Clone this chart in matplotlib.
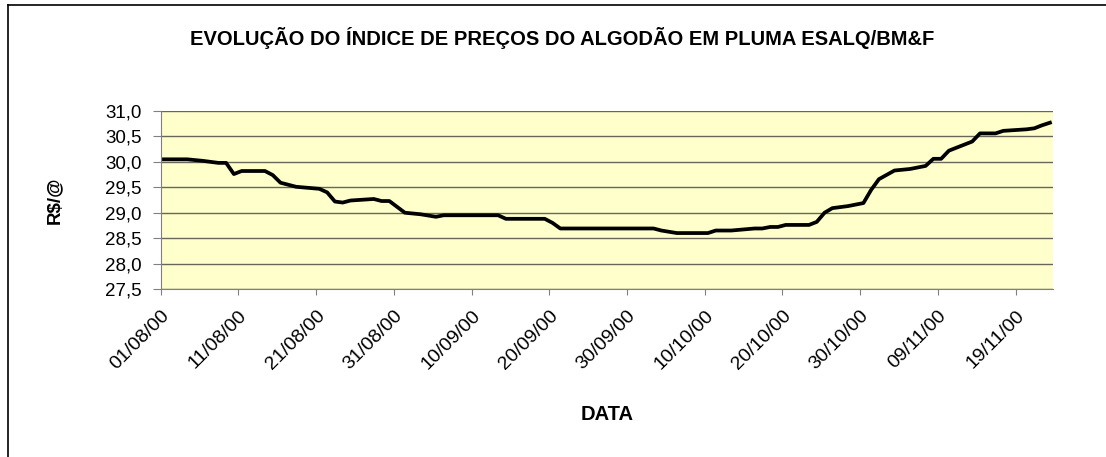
import matplotlib
matplotlib.use('Agg')
import matplotlib.pyplot as plt
import matplotlib.dates as mdates
from matplotlib.lines import Line2D
from matplotlib.ticker import FuncFormatter
import pandas as pd

######################### DATA #########################

title = 'EVOLUÇÃO DO ÍNDICE DE PREÇOS DO ALGODÃO EM PLUMA ESALQ/BM&F'
x_label = 'DATA'
y_label = 'R$/@'

dates = ['01/08', '04/08', '06/08', '08/08', '09/08', '10/08', '11/08', '14/08', '15/08',
         '16/08', '18/08', '21/08', '22/08', '23/08', '24/08', '25/08', '28/08', '29/08',
         '30/08', '01/09', '03/09', '05/09', '06/09', '13/09', '14/09', '19/09', '20/09',
         '21/09', '03/10', '04/10', '06/10', '10/10', '11/10', '13/10', '16/10', '17/10',
         '18/10', '19/10', '20/10', '23/10', '24/10', '25/10', '26/10', '28/10', '30/10',
         '31/10', '01/11', '03/11', '05/11', '07/11', '08/11', '09/11', '10/11', '13/11',
         '14/11', '16/11', '17/11', '20/11', '21/11', '22/11', '23/11']
prices = [30.05, 30.05, 30.02, 29.98, 29.98, 29.76, 29.82, 29.82, 29.74,
          29.59, 29.51, 29.47, 29.40, 29.22, 29.20, 29.24, 29.27, 29.23,
          29.23, 29.00, 28.97, 28.92, 28.95, 28.95, 28.88, 28.88, 28.80,
          28.69, 28.69, 28.65, 28.60, 28.60, 28.65, 28.65, 28.69, 28.69,
          28.72, 28.72, 28.76, 28.76, 28.82, 29.00, 29.09, 29.13, 29.19,
          29.45, 29.66, 29.83, 29.86, 29.92, 30.06, 30.06, 30.22, 30.40,
          30.56, 30.56, 30.61, 30.64, 30.66, 30.72, 30.77]

y_ticks = [27.5, 28.0, 28.5, 29.0, 29.5, 30.0, 30.5, 31.0]

######################### PLOT #########################

plt.rcParams['font.family'] = ['Liberation Sans', 'DejaVu Sans']

x = pd.to_datetime([d + '/2000' for d in dates], format='%d/%m/%Y') + pd.Timedelta(hours=10)
start = pd.Timestamp('2000-08-01')

fig = plt.figure(figsize=(11.06, 4.57), dpi=100)
# chart border (only top and left edges fall inside the picture)
fig.lines.append(Line2D([0.0068, 0.0068], [0.0, 0.989], transform=fig.transFigure,
                        color='black', linewidth=1.2))
fig.lines.append(Line2D([0.0068, 1.0], [0.989, 0.989], transform=fig.transFigure,
                        color='black', linewidth=1.2))

ax = fig.add_axes([0.1453, 0.3676, 0.8067, 0.3895])
ax.set_facecolor('#FFFFCC')
ax.plot(x, prices, color='black', linewidth=2.7, solid_joinstyle='round')

ax.set_ylim(27.5, 31.0)
ax.set_yticks(y_ticks)
ax.yaxis.set_major_formatter(FuncFormatter(lambda v, p: f'{v:.1f}'.replace('.', ',')))
ax.grid(axis='y', color='#66665a', linewidth=1)
ax.set_axisbelow(True)

ax.set_xlim(start, start + pd.Timedelta(days=114.8))
ax.set_xticks(pd.date_range('2000-08-01', '2000-11-19', freq='10D'))
ax.xaxis.set_major_formatter(mdates.DateFormatter('%d/%m/%y'))
plt.setp(ax.get_xticklabels(), rotation=45, ha='right', rotation_mode='anchor')

for s in ['top', 'right']:
	ax.spines[s].set_visible(False)
for s in ['left', 'bottom']:
	ax.spines[s].set_color('#808080')
ax.tick_params(axis='y', colors='#808080', labelcolor='black', labelsize=13.5, length=5.5, pad=8)
ax.tick_params(axis='x', colors='#808080', labelcolor='black', labelsize=14, length=4, pad=9)

ax.set_xlabel(x_label, fontsize=14.5, fontweight='bold')
ax.xaxis.set_label_coords(0.5, -0.652)
ax.set_ylabel(y_label, fontsize=13.5, fontweight='bold')
ax.yaxis.set_label_coords(-0.11, 0.5)
fig.text(0.508, 0.917, title, ha='center', va='center', fontsize=14.5, fontweight='bold')

fig.savefig('out.png', dpi=100)
